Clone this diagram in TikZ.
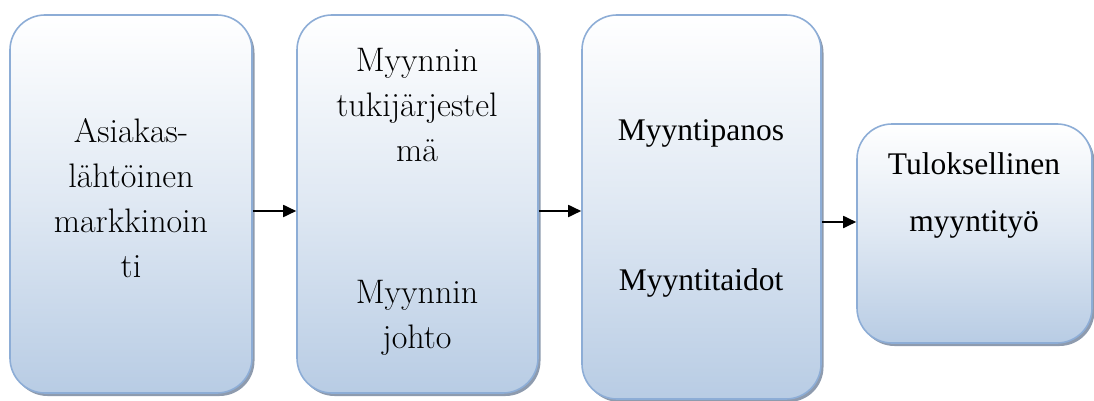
\documentclass[tikz,border=0pt]{standalone}
\usepackage{fontspec}
\newfontfamily\timesfont{Liberation Serif}
\usetikzlibrary{arrows.meta, shadows}
\definecolor{boxedge}{HTML}{8DADD6}
\definecolor{boxbottom}{HTML}{B8CCE4}
\definecolor{boxshade}{HTML}{8E9BAE}

\tikzset{
    stagebox/.style={rounded corners=35pt, draw=boxedge, line width=1.6pt,
        top color=white, bottom color=boxbottom, middle color=boxbottom!45,
        drop shadow={shadow xshift=2.5pt, shadow yshift=-3pt, fill=boxshade, opacity=1}},
    bigtext/.style={align=center, font=\fontsize{34}{45}\selectfont},
    smalltext/.style={align=center, font=\timesfont\fontsize{31.5}{57}\selectfont},
    flow/.style={-{Triangle[length=13pt, width=12pt]}, line width=1.8pt}
}

\begin{document}
\begin{tikzpicture}[x=1pt, y=-1pt]
    \useasboundingbox (0,0) rectangle (1094,401);

    % Stage boxes
    \node[stagebox, minimum width=242pt, minimum height=378pt] (market) at (131,204) {};
    \node[stagebox, minimum width=241pt, minimum height=378pt] (support) at (417.5,204) {};
    \node[stagebox, minimum width=239pt, minimum height=384pt] (input) at (701.5,207) {};
    \node[stagebox, minimum width=235pt, minimum height=219pt] (result) at (974.5,233.5) {};

    % Box texts
    \node[bigtext] (markettxt) at (131,198) {Asiakas-\\lähtöinen\\markkinoin\\ti};
    \node[bigtext] (supporttop) at (417,105) {Myynnin\\tukijärjestel\\mä};
    \node[bigtext] (supportbot) at (417,318) {Myynnin\\johto};
    \node[smalltext] (inputtop) at (701,133) {Myyntipanos};
    \node[smalltext] (inputbot) at (701,283) {Myyntitaidot};
    \node[smalltext] (resulttxt) at (974,195) {Tuloksellinen\\myyntityö};

    % Arrows between stages
    \draw[flow] ([yshift=-7pt]market.east) -- ([yshift=-7pt]support.west);
    \draw[flow] ([yshift=-7pt]support.east) -- ([yshift=-4pt]input.west);
    \draw[flow] ([yshift=-15pt]input.east) -- ([yshift=11.5pt]result.west);
\end{tikzpicture}
\end{document}
